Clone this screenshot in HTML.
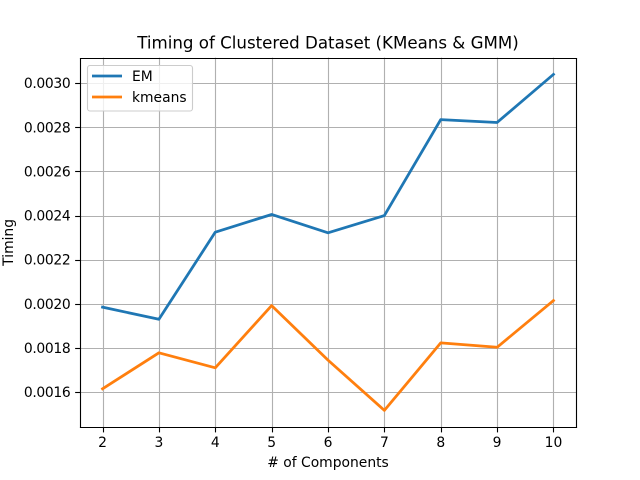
<!DOCTYPE html>
<html>
<head>
<meta charset="utf-8">
<title>Timing of Clustered Dataset</title>
<style>
html,body{margin:0;padding:0;background:#fff;}
svg{display:block;}
text{font-family:"DejaVu Sans",sans-serif;fill:#000;}
</style>
</head>
<body>
<svg id="chart" width="640" height="480" viewBox="0 0 640 480" xmlns="http://www.w3.org/2000/svg">
<rect x="0" y="0" width="640" height="480" fill="#fff"/>
<rect x="80" y="57.6" width="496" height="369.6" fill="#fff"/>
<g id="grid"></g>
<g id="series"></g>
<g id="spines" stroke="#000" stroke-width="1.11" fill="none">
<line x1="80.5" y1="58.5" x2="80.5" y2="427.5" stroke-linecap="square"/>
<line x1="576.5" y1="58.5" x2="576.5" y2="427.5" stroke-linecap="square"/>
<line x1="80.5" y1="58.5" x2="576.5" y2="58.5" stroke-linecap="square"/>
<line x1="80.5" y1="427.5" x2="576.5" y2="427.5" stroke-linecap="square"/>
</g>
<g id="ticks"></g>
<text x="328" y="48.5" font-size="16.67" text-anchor="middle">Timing of Clustered Dataset (KMeans &amp; GMM)</text>
<text x="328" y="467" font-size="13.89" text-anchor="middle"># of Components</text>
<text x="0" y="0" font-size="13.89" text-anchor="middle" transform="translate(13,242.4) rotate(-90)">Timing</text>
<g>
<rect x="87.5" y="65.5" width="105" height="45.5" rx="2.5" ry="2.5" fill="#fff" fill-opacity="0.8" stroke="#ccc" stroke-width="1.11"/>
<line x1="92" y1="76" x2="122" y2="76" stroke="#1f77b4" stroke-width="2.78"/>
<text x="132" y="81" font-size="13.89">EM</text>
<line x1="92" y1="97" x2="122" y2="97" stroke="#ff7f0e" stroke-width="2.78"/>
<text x="132" y="102" font-size="13.89">kmeans</text>
</g>
</svg>
<script>
var components = [2, 3, 4, 5, 6, 7, 8, 9, 10];
var emTiming = [0.001985, 0.00193, 0.002325, 0.002405, 0.002322, 0.0024, 0.002835, 0.002822, 0.00304];
var kmeansTiming = [0.001615, 0.001778, 0.00171, 0.001992, 0.001745, 0.001517, 0.001823, 0.001803, 0.002015];
var xTickValues = [2, 3, 4, 5, 6, 7, 8, 9, 10];
var yTickValues = [0.0016, 0.0018, 0.002, 0.0022, 0.0024, 0.0026, 0.0028, 0.003];
var yTickLabels = ['0.0016', '0.0018', '0.0020', '0.0022', '0.0024', '0.0026', '0.0028', '0.0030'];

var NS = 'http://www.w3.org/2000/svg';
var plot = {left: 80, right: 576, top: 57.6, bottom: 427.2};

function extent(arr) {
  return [Math.min.apply(null, arr), Math.max.apply(null, arr)];
}
var xExt = extent(components);
var yExt = extent(emTiming.concat(kmeansTiming));
var xPad = (xExt[1] - xExt[0]) * 0.05;
var yPad = (yExt[1] - yExt[0]) * 0.05;

function xScale(v) {
  return plot.left + (v - (xExt[0] - xPad)) / ((xExt[1] + xPad) - (xExt[0] - xPad)) * (plot.right - plot.left);
}
function yScale(v) {
  return plot.bottom - (v - (yExt[0] - yPad)) / ((yExt[1] + yPad) - (yExt[0] - yPad)) * (plot.bottom - plot.top);
}
function snap(p) {
  return Math.round(p) + 0.5;
}
function mk(tag, attrs, parent) {
  var el = document.createElementNS(NS, tag);
  for (var k in attrs) el.setAttribute(k, attrs[k]);
  parent.appendChild(el);
  return el;
}

var gridG = document.getElementById('grid');
var ticksG = document.getElementById('ticks');
var seriesG = document.getElementById('series');

xTickValues.forEach(function (v) {
  var x = snap(xScale(v));
  var g = mk('line', {x1: x, y1: plot.top, x2: x, y2: plot.bottom, stroke: '#b0b0b0', 'stroke-width': 1.11}, gridG);
  
  
  var t = mk('line', {x1: x, y1: 427.5, x2: x, y2: 432.4, stroke: '#000', 'stroke-width': 1.11}, ticksG);
  
  
  var l = mk('text', {x: xScale(v), y: plot.bottom + 20, 'font-size': 13.89, 'text-anchor': 'middle'}, ticksG);
  
  
  l.textContent = String(v);
});

yTickValues.forEach(function (v, i) {
  var y = snap(yScale(v));
  var g = mk('line', {x1: plot.left, y1: y, x2: plot.right, y2: y, stroke: '#b0b0b0', 'stroke-width': 1.11}, gridG);
  
  
  var t = mk('line', {x1: plot.left - 4.86, y1: y, x2: 80.5, y2: y, stroke: '#000', 'stroke-width': 1.11}, ticksG);
  
  
  var l = mk('text', {x: plot.left - 9.7, y: yScale(v) + 5, 'font-size': 13.89, 'letter-spacing': '-0.35', 'text-anchor': 'end'}, ticksG);
  
  
  l.textContent = yTickLabels[i];
});

function pointsFor(values) {
  return values.map(function (v, i) {
    return xScale(components[i]).toFixed(2) + ',' + yScale(v).toFixed(2);
  }).join(' ');
}

var emLine = mk('polyline', {points: pointsFor(emTiming), fill: 'none', stroke: '#1f77b4', 'stroke-width': 2.78, 'stroke-linejoin': 'round', 'stroke-linecap': 'square'}, seriesG);



var kmLine = mk('polyline', {points: pointsFor(kmeansTiming), fill: 'none', stroke: '#ff7f0e', 'stroke-width': 2.78, 'stroke-linejoin': 'round', 'stroke-linecap': 'square'}, seriesG);


</script>
</body>
</html>
